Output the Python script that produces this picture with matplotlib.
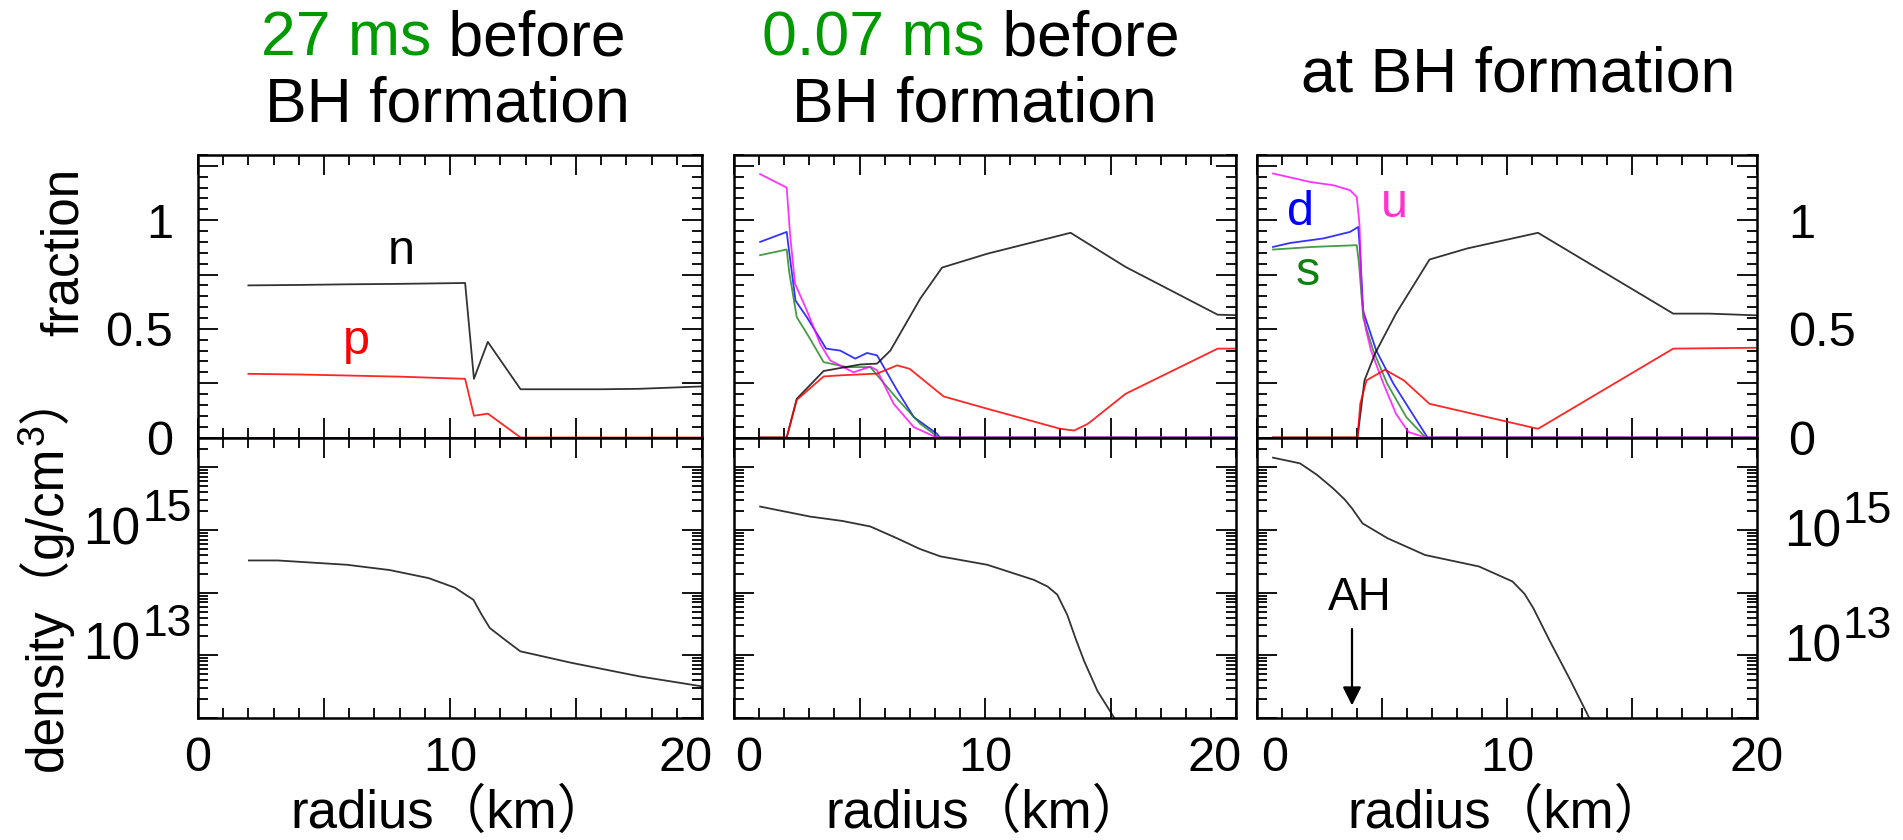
import matplotlib
matplotlib.use("Agg")
import matplotlib.pyplot as plt
from matplotlib.text import Annotation
import numpy as np
from matplotlib.ticker import MultipleLocator, LogLocator, NullFormatter

plt.rcParams['font.family'] = ['Liberation Sans', 'Noto Sans CJK JP', 'DejaVu Sans']

# ---------------- data ----------------
# 27 ms before BH formation
r_27 = [2.0, 4.0, 6.0, 8.0, 10.6, 10.95, 11.5, 12.8, 16.0, 17.5, 20.0]
n_27 = [0.700, 0.702, 0.705, 0.707, 0.711, 0.27, 0.44, 0.222, 0.222, 0.224, 0.235]
p_27 = [0.293, 0.290, 0.285, 0.280, 0.270, 0.10, 0.11, 0.0, 0.0, 0.0, 0.0]
rq_27 = [2.0, 20.0]
u_27 = [0.0, 0.0]
d_27 = [0.0, 0.0]
s_27 = [0.0, 0.0]
rrho_27 = [2.02, 3.16, 5.91, 7.6, 9.15, 10.2, 10.93, 11.25, 11.58, 12.2, 12.79, 14.82, 17.54, 20.0]
rho_27 = [3.27e14, 3.27e14, 2.79e14, 2.3e14, 1.71e14, 1.2e14, 7.7e13, 4.5e13, 2.73e13, 1.75e13,
          1.16e13, 7.6e12, 4.6e12, 3.2e12]

# 0.07 ms before BH formation
ru_007 = [1.04, 2.10, 2.23, 2.43, 2.9, 3.43, 3.83, 4.76, 5.43, 5.7, 6.36, 7.16, 7.96, 8.16, 20.0]
u_007 = [1.212, 1.15, 0.94, 0.708, 0.585, 0.432, 0.355, 0.30, 0.326, 0.309, 0.155, 0.048, 0.006, 0.0, 0.0]
rd_007 = [1.04, 2.10, 2.17, 2.45, 2.9, 3.67, 4.23, 4.83, 5.3, 5.7, 6.5, 7.16, 8.09, 8.2, 20.0]
d_007 = [0.90, 0.946, 0.88, 0.63, 0.554, 0.409, 0.40, 0.363, 0.389, 0.378, 0.217, 0.094, 0.017, 0.0, 0.0]
rs_007 = [1.04, 2.10, 2.2, 2.5, 3.0, 3.57, 4.5, 5.43, 6.5, 7.42, 8.09, 8.2, 20.0]
s_007 = [0.839, 0.865, 0.76, 0.554, 0.46, 0.347, 0.324, 0.324, 0.178, 0.063, 0.006, 0.0, 0.0]
rn_007 = [1.04, 2.10, 2.5, 3.57, 5.03, 5.7, 6.23, 7.42, 8.29, 10.1, 13.41, 15.6, 19.27, 20.0]
n_007 = [0.0, 0.0, 0.178, 0.306, 0.336, 0.34, 0.40, 0.639, 0.782, 0.846, 0.942, 0.785, 0.565, 0.563]
rp_007 = [1.04, 2.10, 2.5, 3.57, 4.23, 5.7, 6.5, 7.0, 8.35, 10.1, 13.0, 13.55, 14.1, 15.6, 19.27, 20.0]
p_007 = [0.0, 0.0, 0.173, 0.281, 0.286, 0.294, 0.332, 0.316, 0.189, 0.132, 0.04, 0.032, 0.063, 0.201, 0.409, 0.409]
rrho_007 = [1.04, 3.03, 4.3, 5.43, 6.49, 7.4, 8.22, 10.09, 11.95, 12.5, 12.88, 13.28, 13.6, 13.95,
            14.48, 15.14, 15.3]
rho_007 = [2.37e15, 1.64e15, 1.4e15, 1.14e15, 7.4e14, 5.0e14, 3.8e14, 2.79e14, 1.6e14, 1.25e14,
           9.3e13, 4.4e13, 1.9e13, 8.1e12, 2.7e12, 1.02e12, 8e11]

# at BH formation
ru_bh = [0.64, 2.12, 3.05, 3.72, 3.99, 4.1, 4.2, 4.35, 4.56, 5.06, 5.56, 6.06, 6.74, 20.0]
u_bh = [1.215, 1.176, 1.161, 1.138, 1.107, 0.98, 0.63, 0.50, 0.40, 0.247, 0.109, 0.025, 0.0, 0.0]
rd_bh = [0.64, 1.32, 2.65, 3.72, 4.05, 4.12, 4.25, 4.77, 5.46, 6.30, 6.82, 20.0]
d_bh = [0.877, 0.895, 0.916, 0.946, 0.969, 0.86, 0.58, 0.40, 0.247, 0.094, 0.0, 0.0]
rs_bh = [0.64, 1.32, 2.22, 3.99, 4.08, 4.25, 4.65, 5.21, 5.97, 6.74, 20.0]
s_bh = [0.865, 0.87, 0.877, 0.885, 0.80, 0.55, 0.40, 0.247, 0.094, 0.0, 0.0]
rn_bh = [0.64, 4.02, 4.3, 4.72, 5.56, 6.9, 8.41, 11.24, 16.65, 18.1, 20.0]
n_bh = [0.0, 0.0, 0.263, 0.386, 0.57, 0.819, 0.87, 0.942, 0.57, 0.57, 0.562]
rp_bh = [0.64, 4.02, 4.13, 4.38, 5.12, 5.87, 6.9, 11.24, 16.65, 20.0]
p_bh = [0.0, 0.0, 0.155, 0.263, 0.312, 0.263, 0.155, 0.04, 0.409, 0.413]
rrho_bh = [0.64, 1.72, 2.4, 3.05, 3.5, 3.8, 4.22, 5.22, 6.72, 8.88, 10.22, 10.7, 11.05, 11.72,
           12.55, 13.22, 13.4]
rho_bh = [1.43e16, 1.16e16, 7.6e15, 4.6e15, 3.1e15, 2.22e15, 1.28e15, 7.4e14, 4.0e14, 2.62e14,
          1.51e14, 9.6e13, 5.7e13, 1.67e13, 3.9e12, 1.14e12, 8e11]
r_ah = 3.8

titles_green = ["27 ms", "0.07 ms", None]
titles_black = [" before", " before", "at BH formation"]
x_ticklabels = ["0", "10", "20"]
frac_ticklabels = ["0", "0.5", "1"]
rho_ticklabels = [(15, "15"), (13, "13")]

C_N, C_P = "black", "#ff0000"
C_U, C_D, C_S = "#ff00ff", "#0000ff", "#1a801a"
C_TITLE_GREEN = "#009a00"

# ---------------- figure / layout ----------------
W, H = 1903, 840
fig = plt.figure(figsize=(W / 100, H / 100), dpi=100)

lefts = [198, 734, 1257]
rights = [702, 1236, 1757]
y_top, y_mid, y_bot = 155, 437.5, 718


def px_rect(x0, x1, y0, y1):
    return [x0 / W, 1 - y1 / H, (x1 - x0) / W, (y1 - y0) / H]


TICK_FS = 35
LBL_FS = 37
XLBL_FS = 38


def style_axes(ax):
    for sp in ax.spines.values():
        sp.set_linewidth(1.8)
    ax.set_xlim(0, 20)
    ax.xaxis.set_major_locator(MultipleLocator(5))
    ax.xaxis.set_minor_locator(MultipleLocator(1))
    ax.tick_params(which='both', direction='in', top=True, right=True,
                   labelbottom=False, labelleft=False)
    ax.tick_params(which='major', length=14.5, width=1.3)
    ax.tick_params(which='minor', length=7.2, width=1.3)


top_axes, bot_axes = [], []
for i in range(3):
    at = fig.add_axes(px_rect(lefts[i], rights[i], y_top, y_mid))
    ab = fig.add_axes(px_rect(lefts[i], rights[i], y_mid, y_bot))
    style_axes(at)
    style_axes(ab)
    at.set_ylim(0, 1.3)
    at.yaxis.set_major_locator(MultipleLocator(0.25))
    at.yaxis.set_minor_locator(MultipleLocator(0.05))
    ab.set_yscale('log')
    ab.set_ylim(1e12, 3e16)
    ab.yaxis.set_major_locator(LogLocator(base=10, numticks=10))
    ab.yaxis.set_minor_locator(LogLocator(base=10, subs=np.arange(2, 10), numticks=20))
    ab.yaxis.set_minor_formatter(NullFormatter())
    ab.tick_params(which='both', labelleft=False)
    top_axes.append(at)
    bot_axes.append(ab)

LW = 1.3
ALPHA_Q = 0.8
frac_sets = [
    (rq_27, u_27, rq_27, d_27, rq_27, s_27, r_27, n_27, r_27, p_27),
    (ru_007, u_007, rd_007, d_007, rs_007, s_007, rn_007, n_007, rp_007, p_007),
    (ru_bh, u_bh, rd_bh, d_bh, rs_bh, s_bh, rn_bh, n_bh, rp_bh, p_bh),
]
for ax, (ru, u, rd, d, rs, s, rn, n, rp, p) in zip(top_axes, frac_sets):
    ax.plot(rd, d, color=C_D, lw=LW, alpha=ALPHA_Q)
    ax.plot(rs, s, color=C_S, lw=LW, alpha=ALPHA_Q)
    ax.plot(ru, u, color=C_U, lw=LW, alpha=ALPHA_Q)
    ax.plot(rn, n, color=C_N, lw=LW, alpha=0.8)
    ax.plot(rp, p, color=C_P, lw=LW, alpha=0.85)

for ax, (rr, rho) in zip(bot_axes, [(rrho_27, rho_27), (rrho_007, rho_007), (rrho_bh, rho_bh)]):
    ax.plot(rr, rho, color='black', lw=LW, alpha=0.8, clip_on=True)

# species labels
top_axes[0].text(8.08, 0.80, "n", color=C_N, fontsize=35, ha='center', va='baseline')
top_axes[0].text(6.30, 0.386, "p", color=C_P, fontsize=35, ha='center', va='baseline')
top_axes[2].text(1.75, 0.98, "d", color=C_D, fontsize=35, ha='center', va='baseline')
top_axes[2].text(5.5, 1.015, "u", color="#ff33cc", fontsize=35, ha='center', va='baseline')
top_axes[2].text(2.05, 0.70, "s", color="#108010", fontsize=35, ha='center', va='baseline')

# apparent horizon marker
bax = bot_axes[2]
bax.annotate("", xy=(r_ah, 10 ** 12.2), xytext=(r_ah, 10 ** 13.42),
             arrowprops=dict(arrowstyle='-|>', lw=1.6, color='black',
                             mutation_scale=28, shrinkA=0, shrinkB=0))
bax.text(4.1, 10 ** 13.72, "AH", fontsize=33, ha='center', va='baseline')

# x tick labels (bottom row) and axis titles
x_shift = [{2: -16}, {0: 15, 2: -21}, {0: 18}]
for i, ax in enumerate(bot_axes):
    for k, lab in enumerate(x_ticklabels):
        v = float(lab)
        dx = x_shift[i].get(k, 0)
        ax.annotate(lab, xy=(v, 0), xycoords=('data', 'axes fraction'),
                    xytext=(dx, -53), textcoords='offset pixels',
                    ha='center', va='baseline', fontsize=TICK_FS, annotation_clip=False)
    ax.annotate("radius（km）", xy=(0.5, 0), xycoords='axes fraction',
                xytext=(0, -110), textcoords='offset pixels',
                ha='center', va='baseline', fontsize=XLBL_FS, annotation_clip=False)

# fraction tick labels (outer sides)
DIG_HALF = 17.5
for lab in frac_ticklabels:
    v = float(lab)
    top_axes[0].annotate(lab, xy=(0, v), xycoords=('axes fraction', 'data'),
                         xytext=(-25, -DIG_HALF), textcoords='offset pixels',
                         ha='right', va='baseline', fontsize=TICK_FS, annotation_clip=False)
    top_axes[2].annotate(lab, xy=(1, v), xycoords=('axes fraction', 'data'),
                         xytext=(31, -DIG_HALF), textcoords='offset pixels',
                         ha='left', va='baseline', fontsize=TICK_FS, annotation_clip=False)

# density tick labels: 10 with raised exponent
BASE_FS = 37
EXP_FS = 32
base_drop = {15: 16, 13: 6}
for e, es in rho_ticklabels:
    v = 10.0 ** e
    drop = base_drop[e]
    # left side, right-aligned
    t_exp = bot_axes[0].annotate(es, xy=(0, v), xycoords=('axes fraction', 'data'),
                                 xytext=(-6, -drop + 25), textcoords='offset pixels',
                                 ha='right', va='baseline', fontsize=EXP_FS,
                                 annotation_clip=False)
    bot_axes[0].annotate("10", xy=(0, 0), xycoords=t_exp,
                         xytext=(-2, -25), textcoords='offset pixels',
                         ha='right', va='bottom', fontsize=BASE_FS, annotation_clip=False)
    # right side, left-aligned
    t10 = bot_axes[2].annotate("10", xy=(1, v), xycoords=('axes fraction', 'data'),
                               xytext=(27, -drop), textcoords='offset pixels',
                               ha='left', va='baseline', fontsize=BASE_FS,
                               annotation_clip=False)
    bot_axes[2].annotate(es, xy=(1, 0), xycoords=t10,
                         xytext=(2, 25), textcoords='offset pixels',
                         ha='left', va='bottom', fontsize=EXP_FS, annotation_clip=False)

# y axis labels
fig.text(78 / W, 1 - 252 / H, "fraction", rotation=90, rotation_mode='anchor',
         ha='center', va='baseline', fontsize=LBL_FS)

# density label written bottom-to-top with a raised "3"
DESC = 0.21 * LBL_FS * 100 / 72
t_rho = fig.text(62 / W, 1 - 771 / H, "density（g/cm", rotation=90, rotation_mode='anchor',
                 ha='left', va='baseline', fontsize=LBL_FS)
t_cube = Annotation("3", xy=(1, 1), xycoords=t_rho, xytext=(-DESC - 19, 1),
                    textcoords='offset pixels', rotation=90, rotation_mode='anchor',
                    ha='left', va='baseline', fontsize=27)
fig.add_artist(t_cube)
fig.add_artist(Annotation("）", xy=(1, 1), xycoords=(t_rho, t_cube), xytext=(-DESC, 1),
                          textcoords='offset pixels', rotation=90, rotation_mode='anchor',
                          ha='left', va='baseline', fontsize=LBL_FS))

# titles
TITLE_FS = 45
title_left = [260.7, 762]
line2_center = [447.5, 974]
for i in range(2):
    tg = fig.text(title_left[i] / W, 1 - 55 / H, titles_green[i], color=C_TITLE_GREEN,
                  fontsize=TITLE_FS, ha='left', va='baseline')
    fig.add_artist(Annotation(titles_black[i], xy=(1, 0), xycoords=tg,
                              ha='left', va='bottom', fontsize=TITLE_FS, color='black'))
    fig.text(line2_center[i] / W, 1 - 122 / H, "BH formation", fontsize=TITLE_FS,
             ha='center', va='baseline')
fig.text(1518 / W, 1 - 91.7 / H, titles_black[2], fontsize=TITLE_FS, ha='center', va='baseline')

fig.savefig("out.png", dpi=100, facecolor='white')
